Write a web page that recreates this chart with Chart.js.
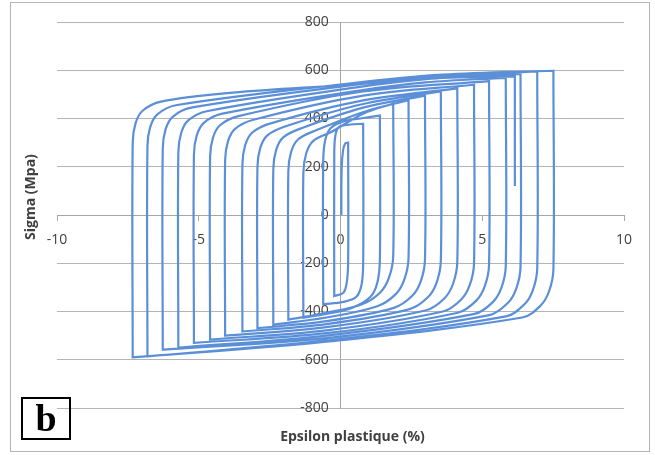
<!DOCTYPE html>
<html>
<head>
<meta charset="utf-8">
<script src="https://cdn.jsdelivr.net/npm/chart.js@4.4.1/dist/chart.umd.min.js"></script>
<style>
  body { margin: 0; background: #fff; }
  #wrap { position: relative; width: 655px; height: 455px; background: #fff; }
  #frame { position: absolute; left: 10px; top: 2px; width: 640px; height: 450px; border: 1px solid #b4b4b4; box-sizing: border-box; }
  .ttl { position: absolute; font-family: "Open Sans", sans-serif; font-weight: bold; font-size: 14px; color: #404040; white-space: nowrap; }
  #xTitle { left: 0; width: 705px; top: 426px; text-align: center; }
  #yTitle { left: 29px; top: 197px; transform: translate(-50%, -50%) rotate(-90deg); }
  #tag { position: absolute; left: 21px; top: 397px; width: 50px; height: 43px; border: 2px solid #000; box-sizing: border-box;
         font-family: "Liberation Serif", serif; font-weight: bold; font-size: 38px; line-height: 38px; text-align: center; color: #000; }
  canvas { position: absolute; left: 0; top: 0; }
</style>
</head>
<body>
<div id="wrap">
  <canvas id="hystGraph" width="655" height="455"></canvas>
  <div id="frame"></div>
  <div class="ttl" id="yTitle">Sigma (Mpa)</div>
  <div class="ttl" id="xTitle">Epsilon plastique (%)</div>
  <div id="tag">b</div>
</div>
<script>
// strain path, one line per half cycle (corner points doubled)
let epsilon = [
  0.03, 0.04, 0.09, 0.17, 0.27, 0.27,
  0.27, 0.22, 0.10, -0.22, -0.22,
  -0.22, -0.18, -0.05, 0.35, 0.80, 0.80,
  0.80, 0.74, 0.55, 0.10, -0.61, -0.61,
  -0.61, -0.54, -0.35, 0.10, 0.80, 1.39, 1.39,
  1.39, 1.30, 1.05, 0.40, -0.50, -1.31, -1.31,
  -1.31, -1.21, -0.96, -0.31, 0.80, 1.86, 1.86,
  1.86, 1.71, 1.41, 0.76, -0.50, -1.84, -1.84,
  -1.84, -1.74, -1.49, -0.84, 0.90, 2.40, 2.40,
  2.40, 2.25, 1.95, 1.30, -0.50, -2.37, -2.37,
  -2.37, -2.27, -2.02, -1.37, 0.80, 2.98, 2.98,
  2.98, 2.83, 2.53, 1.88, -0.50, -2.93, -2.93,
  -2.93, -2.83, -2.58, -1.93, 0.80, 3.54, 3.54,
  3.54, 3.39, 3.09, 2.44, -0.50, -3.46, -3.46,
  -3.46, -3.36, -3.11, -2.46, 0.80, 4.12, 4.12,
  4.12, 3.97, 3.67, 3.02, -0.50, -4.07, -4.07,
  -4.07, -3.97, -3.72, -3.07, 0.80, 4.71, 4.71,
  4.71, 4.56, 4.26, 3.61, -0.50, -4.60, -4.60,
  -4.60, -4.50, -4.25, -3.60, 0.80, 5.24, 5.24,
  5.24, 5.09, 4.79, 4.14, -0.50, -5.17, -5.17,
  -5.17, -5.07, -4.82, -4.17, 0.60, 3.00, 5.83, 5.83,
  5.83, 5.68, 5.38, 4.73, -0.50, -5.72, -5.72,
  -5.72, -5.62, -5.37, -4.72, 0.50, 3.20, 6.35, 6.35,
  6.35, 6.20, 5.90, 5.25, -0.50, -6.27, -6.27,
  -6.27, -6.17, -5.92, -5.27, 0.40, 3.40, 6.94, 6.94,
  6.94, 6.79, 6.49, 5.84, -0.50, -6.81, -6.81,
  -6.81, -6.71, -6.46, -5.81, 0.30, 3.60, 7.51, 7.51,
  7.51, 7.36, 7.06, 6.41, -0.50, -7.33, -7.33,
  -7.33, -7.23, -6.98, -6.33, -3.80, 0.30, 3.00, 6.15, 6.15,
  6.15
];
let sigma = [
  0, 190, 268, 297, 300, 300,
  -190, -280, -322, -336, -336,
  250, 330, 365, 375, 378, 378,
  -200, -290, -340, -360, -370, -370,
  220, 310, 360, 388, 402, 412, 412,
  -180, -280, -340, -385, -410, -426, -426,
  175, 255, 307, 345, 420, 462, 462,
  -170, -260, -320, -370, -405, -434, -434,
  182, 262, 314, 352, 430, 476, 476,
  -178, -268, -328, -378, -425, -455, -455,
  190, 270, 322, 360, 445, 495, 495,
  -185, -275, -335, -385, -440, -469, -469,
  198, 278, 330, 368, 460, 512, 512,
  -190, -280, -340, -390, -452, -483, -483,
  210, 290, 342, 380, 475, 525, 525,
  -195, -285, -345, -395, -465, -500, -500,
  225, 305, 357, 395, 495, 540, 540,
  -200, -290, -350, -400, -478, -516, -516,
  240, 320, 372, 410, 512, 555, 555,
  -205, -295, -355, -405, -490, -530, -530,
  250, 330, 382, 420, 515, 550, 568, 568,
  -210, -300, -360, -410, -500, -550, -550,
  260, 340, 392, 430, 528, 565, 585, 585,
  -215, -305, -365, -415, -510, -558, -558,
  275, 355, 407, 445, 538, 575, 595, 595,
  -220, -310, -370, -420, -520, -586, -586,
  285, 365, 417, 455, 545, 582, 598, 598,
  -225, -315, -375, -425, -525, -590, -590,
  300, 380, 432, 470, 507, 540, 565, 575, 575,
  120
];
let xTicks = [-10, -5, 0, 5, 10];

let points = [];
for (let i = 0; i < epsilon.length; i++) {
  points.push({x: epsilon[i], y: sigma[i]});
}

let ctx = document.getElementById('hystGraph').getContext('2d');
let tickFont = {family: "'Open Sans', sans-serif", size: 14};

let myChart = new Chart(ctx, {
  type: 'scatter',
  data: {
    datasets: [{
      label: 'Sigma',
      data: points,
      showLine: true,
      borderColor: '#5b8fd8',
      backgroundColor: '#5b8fd8',
      borderWidth: 2.2,
      pointRadius: 0,
      tension: 0.35
    }]
  },
  options: {
    responsive: false,
    animation: false,
    devicePixelRatio: 1,
    layout: {padding: {left: 57, right: 31, top: 22, bottom: 47}},
    plugins: {
      legend: {display: false},
      tooltip: {enabled: false}
    },
    scales: {
      x: {
        type: 'linear',
        min: -10,
        max: 10,
        position: {y: 0},
        afterFit: function(scale) { scale.height = 0; },
        afterBuildTicks: function(scale) { scale.ticks = xTicks.map(v => ({value: v})); },
        grid: {drawOnChartArea: false, drawTicks: true, tickLength: 5, color: '#a6a6a6'},
        border: {color: '#a6a6a6', width: 1},
        ticks: {font: tickFont, color: '#404040', padding: 12, maxRotation: 0}
      },
      y: {
        type: 'linear',
        min: -800,
        max: 800,
        position: {x: 0},
        afterFit: function(scale) { scale.width = 0; },
        grid: {color: '#b4b4b4', drawTicks: false, lineWidth: 1},
        border: {color: '#a6a6a6', width: 1},
        ticks: {
          stepSize: 200, font: tickFont, color: '#404040',
          // labels sit left of the centred axis line
          callback: function(value) { return value + '\u2002\u2009\u2009'; }
        }
      }
    }
  }
});
</script>
</body>
</html>
